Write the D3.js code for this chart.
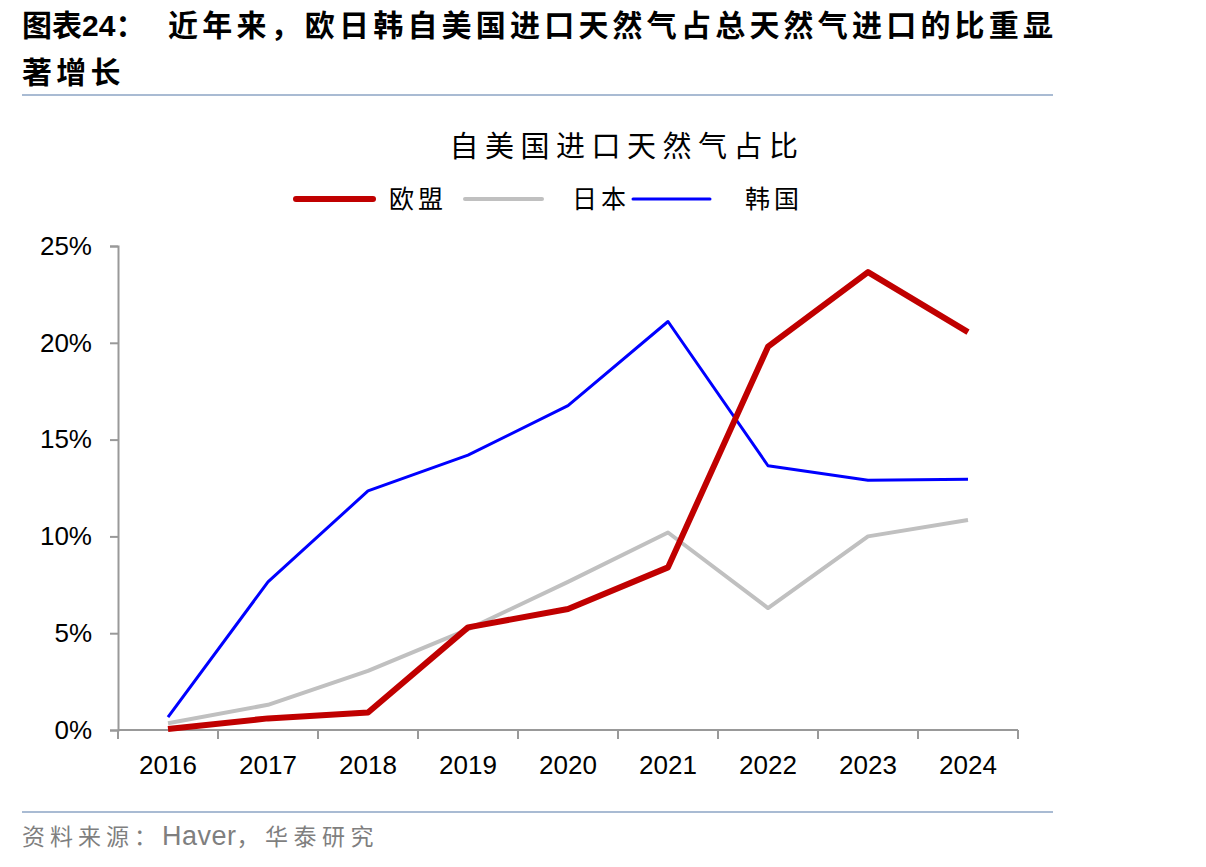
<!DOCTYPE html>
<html>
<head>
<meta charset="utf-8">
<script src="https://cdn.jsdelivr.net/npm/d3@7"></script>
<style>
  body { margin: 0; background: #fff; }
  svg { display: block; }
  .cjk { font-family: "Noto Sans CJK SC", sans-serif; }
  .num { font-family: "Liberation Sans", Arial, sans-serif; }
</style>
</head>
<body>
<div id="chart"></div>
<script>
// data
var years = ["2016", "2017", "2018", "2019", "2020", "2021", "2022", "2023", "2024"];
var euShare = [0.05, 0.6, 0.9, 5.3, 6.25, 8.4, 19.8, 23.65, 20.55];
var japanShare = [0.35, 1.3, 3.05, 5.2, 7.65, 10.2, 6.3, 10.0, 10.85];
var koreaShare = [0.67, 7.65, 12.35, 14.2, 16.75, 21.1, 13.65, 12.9, 12.95];
var yTicks = [0, 5, 10, 15, 20, 25];
var seriesNames = ["欧盟", "日本", "韩国"];

var W = 1206, H = 867;
var svg = d3.select("#chart").append("svg").attr("width", W).attr("height", H);

// heading
var h1 = svg.append("text").attr("class", "cjk").attr("x", 22).attr("y", 36)
  .attr("font-size", 30).attr("font-weight", "bold");
h1.append("tspan").text("图表");
h1.append("tspan").attr("class", "num").text("24");
h1.append("tspan").text("：");
svg.append("text").attr("class", "cjk").attr("x", 168).attr("y", 36)
  .attr("font-size", 30).attr("font-weight", "bold").attr("letter-spacing", 4.2)
  .text("近年来，欧日韩自美国进口天然气占总天然气进口的比重显");
svg.append("text").attr("class", "cjk").attr("x", 22).attr("y", 83)
  .attr("font-size", 30).attr("font-weight", "bold").attr("letter-spacing", 4.2)
  .text("著增长");
svg.append("line").attr("x1", 22).attr("x2", 1053).attr("y1", 95).attr("y2", 95)
  .attr("stroke", "#a9bbd3").attr("stroke-width", 2);

// chart title
svg.append("text").attr("class", "cjk").attr("x", 627).attr("y", 157)
  .attr("text-anchor", "middle").attr("font-size", 29).attr("letter-spacing", 6.5)
  .text("自美国进口天然气占比");

// scales
var x = d3.scaleBand().domain(years).range([118, 1018]);
var y = d3.scaleLinear().domain([0, 25]).range([730, 246]);

var axisColor = "#999";

// y axis
var yAxis = svg.append("g").attr("transform", "translate(118,0)")
  .call(d3.axisLeft(y).tickValues(yTicks).tickSize(8).tickPadding(18)
    .tickFormat(function (d) { return d + "%"; }));
yAxis.select(".domain").attr("stroke", axisColor).attr("stroke-width", 2);
yAxis.selectAll(".tick line").attr("stroke", axisColor).attr("stroke-width", 2);
yAxis.selectAll("text").attr("class", "num").attr("font-size", 26).attr("fill", "#000");

// x axis with ticks on band edges
var xAxis = svg.append("g").attr("transform", "translate(0,730)");
xAxis.append("line").attr("x1", 118).attr("x2", 1018)
  .attr("stroke", axisColor).attr("stroke-width", 2);
var edges = years.map(function (d) { return x(d); }).concat([x.range()[1]]);
xAxis.selectAll(".edge").data(edges).enter().append("line")
  .attr("x1", function (d) { return d; }).attr("x2", function (d) { return d; })
  .attr("y1", 0).attr("y2", 9)
  .attr("stroke", axisColor).attr("stroke-width", 2);
xAxis.selectAll(".lab").data(years).enter().append("text")
  .attr("class", "num").attr("font-size", 26).attr("text-anchor", "middle")
  .attr("x", function (d) { return x(d) + x.bandwidth() / 2; })
  .attr("y", 44)
  .text(function (d) { return d; });

// series lines
var series = [
  { name: seriesNames[1], values: japanShare, color: "#c0c0c0", width: 4 },
  { name: seriesNames[2], values: koreaShare, color: "#0000ff", width: 3 },
  { name: seriesNames[0], values: euShare, color: "#c00000", width: 6 }
];
var line = d3.line()
  .x(function (d, i) { return x(years[i]) + x.bandwidth() / 2; })
  .y(function (d) { return y(d); });

svg.selectAll(".series").data(series).enter().append("path")
  .attr("fill", "none")
  .attr("stroke", function (d) { return d.color; })
  .attr("stroke-width", function (d) { return d.width; })
  .attr("stroke-linejoin", "round")
  .attr("d", function (d) { return line(d.values); });

// legend
var legendItems = [
  { name: seriesNames[0], color: "#c00000", width: 6, x: 296, tx: 389 },
  { name: seriesNames[1], color: "#c0c0c0", width: 4, x: 465, tx: 572 },
  { name: seriesNames[2], color: "#0000ff", width: 3, x: 633, tx: 745 }
];
var lg = svg.selectAll(".legend").data(legendItems).enter().append("g");
lg.append("line")
  .attr("x1", function (d) { return d.x; }).attr("x2", function (d) { return d.x + 77; })
  .attr("y1", 199).attr("y2", 199)
  .attr("stroke", function (d) { return d.color; })
  .attr("stroke-width", function (d) { return d.width; })
  .attr("stroke-linecap", "round");
lg.append("text").attr("class", "cjk")
  .attr("x", function (d) { return d.tx; }).attr("y", 208)
  .attr("font-size", 25).attr("letter-spacing", 4)
  .text(function (d) { return d.name; });

// footer
svg.append("line").attr("x1", 22).attr("x2", 1053).attr("y1", 812).attr("y2", 812)
  .attr("stroke", "#a9bbd3").attr("stroke-width", 2);
var ft = svg.append("text").attr("class", "cjk").attr("x", 22).attr("y", 845)
  .attr("font-size", 23).attr("fill", "#7f7f7f");
ft.append("tspan").attr("letter-spacing", 5).text("资料来源：");
ft.append("tspan").attr("class", "num").attr("font-size", 27).attr("letter-spacing", 0.5).text("Haver");
ft.append("tspan").attr("letter-spacing", 5.5).text("，华泰研究");
</script>
</body>
</html>
